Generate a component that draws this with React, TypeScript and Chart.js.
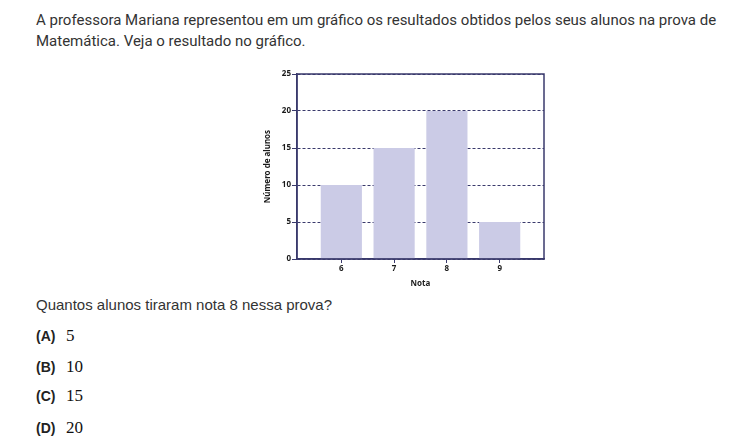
import React, { useEffect, useRef } from "react";
import { Chart, registerables } from "chart.js";

Chart.register(...registerables);

const notas = [6, 7, 8, 9];
const alunos = [10, 15, 20, 5];
const yTicks = [0, 5, 10, 15, 20, 25];

const introLines = [
  "A professora Mariana representou em um gráfico os resultados obtidos pelos seus alunos na prova de",
  "Matemática. Veja o resultado no gráfico.",
];
const question = "Quantos alunos tiraram nota 8 nessa prova?";
const optionLetters = ["(A)", "(B)", "(C)", "(D)"];
const optionValues = ["5", "10", "15", "20"];

const NAVY = "#3a3a6c";
const BAR = "#cbcbe6";

const framePlugin = {
  id: "frame",
  afterDatasetsDraw(chart: any) {
    const { ctx, chartArea } = chart;
    ctx.save();
    ctx.strokeStyle = NAVY;
    ctx.lineWidth = 1.5;
    ctx.strokeRect(chartArea.left, chartArea.top, chartArea.right - chartArea.left, chartArea.bottom - chartArea.top);
    ctx.restore();
  },
};

function BarChart() {
  const ref = useRef<HTMLCanvasElement>(null);
  useEffect(() => {
    const font = { family: "'Noto Sans', sans-serif", size: 8, weight: "bold" as const };
    const chart = new Chart(ref.current!, {
      type: "bar",
      data: {
        datasets: [
          {
            data: notas.map((n, i) => ({ x: n, y: alunos[i] })),
            backgroundColor: BAR,
            borderWidth: 0,
            barPercentage: 0.78,
            categoryPercentage: 1,
          },
        ],
      },
      options: {
        animation: false,
        responsive: false,
        layout: { padding: { top: 10, right: 11, left: 0, bottom: 0 } },
        plugins: { legend: { display: false }, tooltip: { enabled: false } },
        scales: {
          x: {
            type: "linear",
            offset: false,
            min: 5.16,
            max: 9.84,
            afterBuildTicks: (scale: any) => {
              scale.ticks = notas.map((v) => ({ value: v }));
            },
            afterFit: (scale: any) => {
              scale.height = 35;
            },
            grid: { display: true, offset: false, drawOnChartArea: false, drawTicks: true, tickLength: 4, color: NAVY, tickColor: NAVY },
            border: { color: NAVY, width: 1.5 },
            ticks: { color: "#1a1a1a", font, padding: 1, callback: (v: any) => String(v), maxRotation: 0 },
            title: { display: true, text: "Nota", color: "#1a1a1a", font, padding: { top: 0, bottom: 5 } },
          },
          y: {
            min: 0,
            max: 25,
            afterBuildTicks: (scale: any) => {
              scale.ticks = yTicks.map((v) => ({ value: v }));
            },
            afterFit: (scale: any) => {
              scale.width = 42;
            },
            grid: { color: NAVY, lineWidth: 1, tickLength: 5, tickColor: NAVY, tickBorderDash: [] },
            border: { color: NAVY, width: 1.5, dash: [3, 2] },
            ticks: { color: "#1a1a1a", font, padding: 1 },
            title: { display: true, text: "Número de alunos", color: "#1a1a1a", font, padding: { top: 8, bottom: 0 } },
          },
        },
      } as any,
      plugins: [framePlugin],
    });
    return () => chart.destroy();
  }, []);
  return <canvas ref={ref} width={300} height={230} style={{ width: 300, height: 230, display: "block" }} />;
}

export default function App() {
  const sans = "Roboto, 'Liberation Sans', Arial, sans-serif";
  const arial = "'Liberation Sans', Arial, sans-serif";
  const serif = "'Liberation Serif', 'Times New Roman', serif";
  const optionCenters = [336, 367, 396, 427.5];
  return (
    <div style={{ position: "absolute", left: 0, top: 0, width: 736, height: 443, background: "#fff", overflow: "hidden" }}>
      {introLines.map((t, i) => (
        <div
          key={i}
          style={{ position: "absolute", left: 36, top: 20 + i * 21 - 10, lineHeight: "20px", fontFamily: sans, fontSize: 15, color: "#333", whiteSpace: "nowrap" }}
        >
          {t}
        </div>
      ))}
      <div style={{ position: "absolute", left: 255, top: 64 }}>
        <BarChart />
      </div>
      <div style={{ position: "absolute", left: 36, top: 305 - 10, lineHeight: "20px", fontFamily: arial, fontSize: 15, color: "#333", whiteSpace: "nowrap" }}>
        {question}
      </div>
      {optionLetters.map((l, i) => (
        <div key={l} style={{ position: "absolute", left: 36, top: optionCenters[i] - 11, height: 22, display: "flex", alignItems: "center", whiteSpace: "nowrap" }}>
          <span style={{ fontFamily: arial, fontWeight: "bold", fontSize: 14, color: "#222", width: 30, display: "inline-block" }}>{l}</span>
          <span style={{ fontFamily: serif, fontSize: 17, color: "#111" }}>{optionValues[i]}</span>
        </div>
      ))}
    </div>
  );
}
